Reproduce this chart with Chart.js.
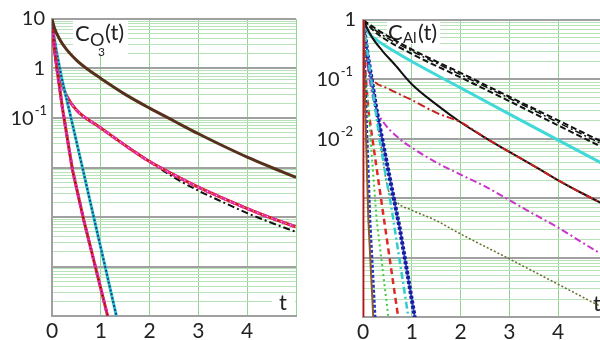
<!DOCTYPE html>
<html>
<head>
<meta charset="utf-8">
<script src="https://cdn.jsdelivr.net/npm/chart.js@4.4.0/dist/chart.umd.min.js"></script>
<style>
html, body { margin: 0; padding: 0; background: #fff; overflow: hidden; width: 600px; height: 340px; }
#left { position: absolute; left: 0; top: 0; }
#right { position: absolute; left: 310px; top: 0; }
</style>
</head>
<body>
<canvas id="left" width="300" height="340"></canvas>
<canvas id="right" width="300" height="340"></canvas>
<script>
// ---- left panel : C_O3(t) ----
const tBrown = [0, 0.05, 0.15, 0.3, 0.5, 0.75, 1, 1.5, 2, 2.5, 3, 3.5, 4, 4.5, 5];
const cBrown = [10, 6.6, 4.0, 2.4, 1.48, 0.93, 0.63, 0.30, 0.158, 0.087, 0.048, 0.0275, 0.0162, 0.01, 0.0063];

const tMid = [0, 0.05, 0.1, 0.2, 0.3, 0.5, 1, 1.5, 2, 2.5, 3, 3.5, 4, 4.5, 5];
const cMid = [7.9, 2.5, 1.12, 0.5, 0.28, 0.145, 0.063, 0.028, 0.0132, 0.0071, 0.004, 0.0024, 0.00148, 0.00095, 0.00063];
const cMidDashDot = [7.9, 2.5, 1.12, 0.5, 0.28, 0.145, 0.063, 0.028, 0.0132, 0.0063, 0.0034, 0.002, 0.0012, 0.00076, 0.0005];

const tSteepPink = [0, 0.05, 0.1, 0.22, 0.42, 0.65, 0.9, 1.14];
const cSteepPink = [8, 2.8, 1.0, 0.145, 0.0089, 0.00087, 0.000089, 0.00001];

const tSteepTeal = [0, 0.05, 0.1, 0.2, 0.39, 0.6, 0.86, 1.1, 1.32];
const cSteepTeal = [8, 4.0, 2.0, 0.63, 0.1, 0.0126, 0.00095, 0.000089, 0.00001];

// ---- right panel : C_Al(t) ----
const tDashA = [0, 0.3, 1, 2, 3, 4, 5];
const cDashA = [1, 0.68, 0.32, 0.129, 0.051, 0.0204, 0.0081];
const cDashB = [1, 0.58, 0.27, 0.108, 0.043, 0.0168, 0.0066];
const cDashDot = [1, 0.63, 0.30, 0.12, 0.048, 0.0188, 0.0074];

const tCyan = [0, 0.1, 0.3, 0.65, 1, 2, 3, 4, 5];
const cCyan = [1, 0.63, 0.45, 0.295, 0.2, 0.072, 0.026, 0.0095, 0.0035];

const tBlack = [0, 0.18, 0.4, 0.65, 1, 1.5, 2, 2.5, 3, 3.5, 4, 4.5, 5];
const cBlack = [1, 0.52, 0.30, 0.178, 0.083, 0.038, 0.019, 0.0105, 0.006, 0.0035, 0.002, 0.0012, 0.00074];

const tRedDD = [0, 0.05, 0.12, 0.2, 0.5, 1, 1.5, 2, 2.5, 3, 3.5, 4, 4.5, 5];
const cRedDD = [1, 0.32, 0.141, 0.1, 0.071, 0.045, 0.0275, 0.019, 0.0105, 0.006, 0.0035, 0.002, 0.0012, 0.00074];

const tMagenta = [0, 0.1, 0.25, 0.4, 0.75, 1, 1.5, 2, 2.5, 3, 3.5, 4, 4.5, 5];
const cMagenta = [1, 0.158, 0.035, 0.02, 0.01, 0.0071, 0.004, 0.0025, 0.00158, 0.00093, 0.00054, 0.00032, 0.000178, 0.0001];

const tOlive = [0, 0.1, 0.3, 0.5, 0.7, 1, 1.5, 2, 3, 4, 5];
const cOlive = [1, 0.28, 0.02, 0.00158, 0.00085, 0.00063, 0.00042, 0.00025, 0.000095, 0.0000355, 0.0000132];

const tNavy = [0, 0.1, 0.28, 0.5, 0.76, 1.06];
const cNavy = [1, 0.25, 0.03, 0.0035, 0.00029, 0.00001];

const tCyanDD = [0, 0.1, 0.35, 0.58, 0.93];
const cCyanDD = [1, 0.25, 0.0085, 0.00072, 0.00001];

const tRedDash = [0, 0.05, 0.11, 0.35, 0.72];
const cRedDash = [1, 0.126, 0.03, 0.00126, 0.00001];

const tGreen = [0, 0.05, 0.1, 0.28, 0.52];
const cGreen = [1, 0.158, 0.04, 0.00043, 0.00001];

const tBlueDot = [0, 0.03, 0.14, 0.245];
const cBlueDot = [1, 0.158, 0.00043, 0.00001];

const tBrownV = [0, 0.02, 0.11, 0.21];
const cBrownV = [1, 0.2, 0.00043, 0.00001];

const tRedV = [0, 0.005, 0.01];
const cRedV = [1, 0.003, 0.00001];

// axis ticks
const xTicks = [0, 1, 2, 3, 4];
const leftDecades = [-5, -4, -3, -2, -1, 0, 1];
const rightDecades = [-5, -4, -3, -2, -1, 0];

const GRAY = '#a0a0a0';
const GREEN_H = '#b8e3b8';
const GREEN_V = '#92d492';
const FONT = 'Lato';

function line(t, c, color, width, dash, smooth) {
    return {
        data: t.map((x, i) => ({ x: x, y: c[i] })),
        borderColor: color,
        borderWidth: width,
        borderDash: dash || [],
        pointRadius: 0,
        fill: false,
        tension: 0,
        cubicInterpolationMode: smooth ? 'monotone' : 'default'
    };
}

function isDecade(v) {
    const l = Math.log10(v);
    return Math.abs(l - Math.round(l)) < 1e-6;
}

function logTicks(decades) {
    const ticks = [];
    for (let i = 0; i < decades.length - 1; i++) {
        for (let m = 1; m <= 9; m++) ticks.push({ value: m * Math.pow(10, decades[i]) });
    }
    ticks.push({ value: Math.pow(10, decades[decades.length - 1]) });
    return ticks;
}

function drawPow(ctx, xRight, y, exp) {
    ctx.save();
    ctx.fillStyle = '#222';
    ctx.textBaseline = 'alphabetic';
    ctx.textAlign = 'right';
    ctx.font = '13px ' + FONT;
    const ew = ctx.measureText(exp).width;
    ctx.fillText(exp, xRight, y - 3);
    ctx.font = '20px ' + FONT;
    ctx.fillText('10', xRight - ew - 1, y + 7);
    ctx.restore();
}

function labelPlugin(cfg) {
    return {
        id: 'labels_' + cfg.id,
        beforeDatasetsDraw(chart) {
            const ctx = chart.ctx;
            ctx.save();
            ctx.fillStyle = '#fff';
            cfg.boxes.forEach(b => ctx.fillRect(b[0], b[1], b[2], b[3]));
            ctx.fillStyle = '#222';
            ctx.textBaseline = 'alphabetic';
            ctx.textAlign = 'left';
            cfg.texts.forEach(s => {
                ctx.font = s.size + 'px ' + FONT;
                ctx.fillText(s.text, s.x, s.y);
            });
            ctx.restore();
        },
        afterDraw(chart) {
            const y = chart.scales.y;
            cfg.powers.forEach(p => drawPow(chart.ctx, p.x, y.getPixelForValue(p.value), p.exp));
        }
    };
}

function makeOptions(decades, yWidth, pad, xHeight, yLabel) {
    return {
        responsive: false,
        animation: false,
        devicePixelRatio: 1,
        layout: { padding: pad },
        plugins: { legend: { display: false }, tooltip: { enabled: false } },
        scales: {
            x: {
                type: 'linear',
                min: 0,
                max: 5,
                afterFit: s => { s.height = xHeight; },
                afterBuildTicks: s => { s.ticks = [0, 1, 2, 3, 4, 5].map(v => ({ value: v })); },
                grid: {
                    drawTicks: false,
                    color: c => (c.tick && c.tick.value === 0) ? GRAY : GREEN_V,
                    lineWidth: c => (c.tick && c.tick.value === 0) ? 2 : 1
                },
                border: { color: GRAY, width: 2 },
                ticks: {
                    padding: 3,
                    color: '#222',
                    font: { family: FONT, size: 21 },
                    autoSkip: false,
                    maxRotation: 0,
                    callback: v => xTicks.includes(v) ? String(v) : ''
                }
            },
            y: {
                type: 'logarithmic',
                min: Math.pow(10, decades[0]),
                max: Math.pow(10, decades[decades.length - 1]),
                afterFit: s => { s.width = yWidth; },
                afterBuildTicks: s => { s.ticks = logTicks(decades); },
                grid: {
                    drawTicks: false,
                    color: c => (c.tick && isDecade(c.tick.value)) ? GRAY : GREEN_H,
                    lineWidth: c => (c.tick && isDecade(c.tick.value)) ? 2 : 1
                },
                border: { color: GRAY, width: 2 },
                ticks: {
                    padding: 7,
                    color: '#222',
                    font: { family: FONT, size: 20 },
                    autoSkip: false,
                    callback: v => yLabel(v)
                }
            }
        }
    };
}

new Chart(document.getElementById('left'), {
    type: 'line',
    data: {
        datasets: [
            line(tBrown, cBrown, '#55301a', 3, [], true),
            line(tSteepPink, cSteepPink, '#111', 1, [1, 3], false),
            line(tSteepPink, cSteepPink, '#e8289b', 3, [6, 3], false),
            line(tSteepPink, cSteepPink, '#d41c1c', 3, [], false),
            line(tSteepTeal, cSteepTeal, '#1b3f8f', 2, [2, 2], false),
            line(tSteepTeal, cSteepTeal, '#2cc6c6', 3, [], false),
            line(tMid, cMid, '#ffffff', 1, [1, 4], true),
            line(tMid, cMid, '#e8289b', 3, [6, 3], true),
            line(tMid, cMid, '#d41c1c', 3, [], true),
            line(tMid, cMidDashDot, '#111', 2, [7, 3, 2, 3], true)
        ]
    },
    options: makeOptions(leftDecades, 52, { top: 19, right: 4, left: 0, bottom: 0 }, 24,
        v => v === 10 ? '10' : (v === 1 ? '1' : '')),
    plugins: [labelPlugin({
        id: 'l',
        boxes: [[73, 20, 55, 34], [272, 293, 23, 22]],
        texts: [
            { text: 'C', size: 22, x: 75, y: 41 },
            { text: 'O', size: 18, x: 90, y: 46 },
            { text: '3', size: 12, x: 98, y: 56 },
            { text: '(t)', size: 22, x: 105, y: 40 },
            { text: 't', size: 22, x: 279, y: 310 }
        ],
        powers: [{ value: 0.1, exp: '-1', x: 47 }]
    })]
});

new Chart(document.getElementById('right'), {
    type: 'line',
    data: {
        datasets: [
            line(tRedV, cRedV, '#e00000', 2, [], false),
            line(tBrownV, cBrownV, '#8b5a2b', 2, [], false),
            line(tBlueDot, cBlueDot, '#2233cc', 3, [3, 2], false),
            line(tGreen, cGreen, '#44cc44', 2, [2, 3], false),
            line(tRedDash, cRedDash, '#e02828', 2.5, [6, 4], false),
            line(tCyanDD, cCyanDD, '#33cccc', 2.5, [7, 3, 2, 3], false),
            line(tNavy, cNavy, '#1a1aa0', 4, [3, 2], false),
            line(tNavy, cNavy, '#2a4ad0', 2, [], false),
            line(tOlive, cOlive, '#6b6b2a', 1.5, [2, 2], true),
            line(tMagenta, cMagenta, '#cc33cc', 2, [7, 3, 2, 3], true),
            line(tRedDD, cRedDD, '#c82020', 2, [8, 3, 2, 3], true),
            line(tBlack, cBlack, '#111', 2, [], true),
            line(tDashA, cDashA, '#111', 2, [6, 3], true),
            line(tDashA, cDashDot, '#111', 1.5, [7, 3, 2, 3], true),
            line(tDashA, cDashB, '#111', 2, [6, 3], true),
            line(tCyan, cCyan, '#40d8d8', 3, [], true)
        ]
    },
    options: makeOptions(rightDecades, 53, { top: 20, right: 3, left: 0, bottom: 0 }, 23,
        v => v === 1 ? '1' : ''),
    plugins: [labelPlugin({
        id: 'r',
        boxes: [[77, 21, 53, 23], [278, 294, 22, 20]],
        texts: [
            { text: 'C', size: 22, x: 78, y: 40 },
            { text: 'Al', size: 15, x: 93, y: 43 },
            { text: '(t)', size: 22, x: 108, y: 40 },
            { text: 't', size: 22, x: 283, y: 311 }
        ],
        powers: [{ value: 0.1, exp: '-1', x: 43 }, { value: 0.01, exp: '-2', x: 43 }]
    })]
});
</script>
</body>
</html>
